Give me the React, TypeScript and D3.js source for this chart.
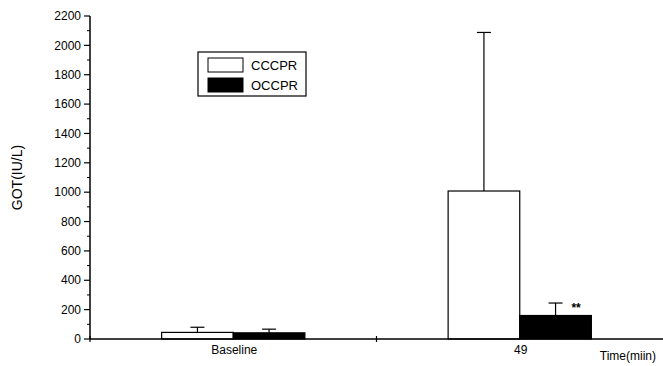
import React from "react";
import * as d3 from "d3";

const categories = ["Baseline", "49"];
const seriesNames = ["CCCPR", "OCCPR"];
const cccprMean = [45, 1008];
const cccprErr = [35, 1080];
const occprMean = [42, 160];
const occprErr = [25, 85];
const yTicks = [0, 200, 400, 600, 800, 1000, 1200, 1400, 1600, 1800, 2000, 2200];
const significance = ["", "**"];

const W = 663;
const H = 366;
const FONT = "'Liberation Sans', Arial, sans-serif";

export default function App() {
  const x = d3.scaleBand<string>().domain(categories).range([90, 663]).paddingInner(0).paddingOuter(0);
  const y = d3.scaleLinear().domain([0, 2200]).range([339, 16]);
  const inner = d3.scaleBand<string>().domain(seriesNames).range([0, x.bandwidth()]).paddingOuter(1).paddingInner(0);
  const minor = d3.range(100, 2200, 200);

  const series = [
    { name: "CCCPR", mean: cccprMean, err: cccprErr, fill: "#fff" },
    { name: "OCCPR", mean: occprMean, err: occprErr, fill: "#000" },
  ];

  return (
    <svg width={W} height={H} style={{ position: "absolute", left: 0, top: 0, background: "#fff" }} fontFamily={FONT}>
      {/* bars with one-sided error bars */}
      {categories.map((c, i) =>
        series.map((s) => {
          const bx = (x(c) as number) + (inner(s.name) as number);
          const bw = inner.bandwidth();
          const top = y(s.mean[i]);
          const eTop = y(s.mean[i] + s.err[i]);
          const cx = bx + bw / 2;
          return (
            <g key={c + s.name}>
              <rect x={bx} y={top} width={bw} height={y(0) - top} fill={s.fill} stroke="#000" strokeWidth={1.2} />
              <line x1={cx} x2={cx} y1={top} y2={eTop} stroke="#000" strokeWidth={1.2} />
              <line x1={cx - 7} x2={cx + 7} y1={eTop} y2={eTop} stroke="#000" strokeWidth={1.2} />
            </g>
          );
        })
      )}
      {categories.map((c, i) =>
        significance[i] ? (
          <text key={"sig" + c} x={(x(c) as number) + (inner("OCCPR") as number) + inner.bandwidth() - 20} y={y(occprMean[i] + occprErr[i]) + 9} fontSize={12} fontWeight="bold">
            {significance[i]}
          </text>
        ) : null
      )}

      {/* y axis */}
      <line x1={90} x2={90} y1={y(2200)} y2={y(0)} stroke="#000" strokeWidth={1.5} />
      {yTicks.map((t) => (
        <g key={t}>
          <line x1={84} x2={90} y1={y(t)} y2={y(t)} stroke="#000" strokeWidth={1.2} />
          <text x={81} y={y(t)} dy="0.35em" textAnchor="end" fontSize={12}>{t}</text>
        </g>
      ))}
      {minor.map((t) => (
        <line key={"m" + t} x1={87} x2={90} y1={y(t)} y2={y(t)} stroke="#000" strokeWidth={1} />
      ))}
      <text transform={`translate(22,${(y(0) + y(2200)) / 2}) rotate(-90)`} textAnchor="middle" fontSize={14}>GOT(IU/L)</text>

      {/* x axis */}
      <line x1={90} x2={663} y1={y(0)} y2={y(0)} stroke="#000" strokeWidth={1.5} />
      {[90, (x("49") as number)].map((px) => (
        <line key={"xt" + px} x1={px} x2={px} y1={y(0) - 3} y2={y(0) + 3} stroke="#000" strokeWidth={1.2} />
      ))}
      {categories.map((c) => (
        <text key={"xl" + c} x={(x(c) as number) + x.bandwidth() / 2 + 1} y={354} textAnchor="middle" fontSize={12}>{c}</text>
      ))}
      <text x={656} y={360} textAnchor="end" fontSize={12}>Time(miin)</text>

      {/* legend */}
      <rect x={198} y={52} width={108} height={44} fill="#fff" stroke="#000" strokeWidth={1.2} />
      {series.map((s, i) => (
        <g key={"lg" + s.name}>
          <rect x={208} y={58 + i * 20} width={35} height={14} fill={s.fill} stroke="#000" strokeWidth={1} />
          <text x={251} y={70 + i * 20} fontSize={13}>{s.name}</text>
        </g>
      ))}
    </svg>
  );
}
